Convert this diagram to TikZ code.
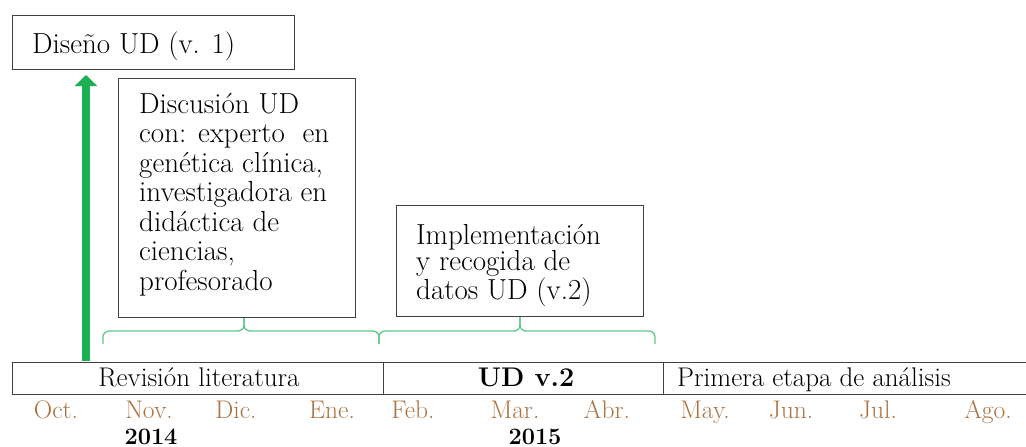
\documentclass[tikz,border=0pt]{standalone}
\usepackage{fontspec}
\usetikzlibrary{arrows.meta}
\definecolor{boxgray}{HTML}{404040}
\definecolor{arrowgreen}{HTML}{1DB052}
\definecolor{bracegreen}{HTML}{5EC98C}
\definecolor{monthbrown}{HTML}{AC7342}
\begin{document}
\begin{tikzpicture}[x=1pt,y=-1pt,
  boxstyle/.style={draw=boxgray,line width=1.2pt,inner sep=0pt,anchor=north west},
  cellstyle/.style={draw=boxgray,line width=1.2pt,inner sep=0pt,anchor=north west,minimum height=32pt},
  boxtext/.style={anchor=base west,inner sep=0pt,font=\fontsize{29}{29.5}\selectfont},
  celltext/.style={anchor=base,inner sep=0pt,font=\fontsize{27}{30}\selectfont},
  monthtext/.style={anchor=base,inner sep=0pt,text=monthbrown,font=\fontsize{25.5}{28}\selectfont},
  yeartext/.style={anchor=base,inner sep=0pt,font=\fontsize{23.5}{25}\selectfont\bfseries},
  bracestyle/.style={draw=bracegreen,line width=1.3pt,rounded corners=6pt},
  arrowstyle/.style={draw=arrowgreen,line width=7.5pt,-{Triangle[width=22pt,length=11pt]}}
]
\useasboundingbox (0,0) rectangle (1026,447);
\fill[white] (0,0) rectangle (1026,447);

% boxes
\node[boxstyle,minimum width=282pt,minimum height=54pt] (dis) at (12,15) {};
\node[boxtext] (distxt) at (32,53.5) {Diseño UD (v. 1)};

\node[boxstyle,minimum width=237pt,minimum height=239pt] (disc) at (118,78) {};
\node[boxtext] (disctxt) at (139,113) {\parbox[t]{220pt}{\raggedright Discusión UD\\ con: experto\ \ en\\ genética clínica,\\ investigadora en\\ didáctica de\\ ciencias,\\ profesorado}};

\node[boxstyle,minimum width=247pt,minimum height=111pt] (impl) at (396,205) {};
\node[boxtext,font=\fontsize{29}{26.5}\selectfont] (impltxt) at (416,244) {\parbox[t]{225pt}{\raggedright Implementación\\ y recogida de\\ datos UD (v.2)}};

% timeline cells
\node[cellstyle,minimum width=371pt] (rev) at (12,362) {};
\node[cellstyle,minimum width=280pt] (udv) at (383,362) {};
\node[cellstyle,minimum width=380pt] (prim) at (663,362) {};
\node[celltext] (revtxt) at (199,386) {Revisión literatura};
\node[celltext,font=\fontsize{27}{30}\selectfont\bfseries] (udvtxt) at (526,386) {UD v.2};
\node[celltext,anchor=base west] (primtxt) at (677,386) {Primera etapa de análisis};

% months
\node[monthtext] (m10) at (56,418) {Oct.};
\node[monthtext] (m11) at (149,418) {Nov.};
\node[monthtext] (m12) at (236,418) {Dic.};
\node[monthtext] (m01) at (332,418) {Ene.};
\node[monthtext] (m02) at (413,418) {Feb.};
\node[monthtext] (m03) at (515,418) {Mar.};
\node[monthtext] (m04) at (607,418) {Abr.};
\node[monthtext] (m05) at (705,418) {May.};
\node[monthtext] (m06) at (791,418) {Jun.};
\node[monthtext] (m07) at (878,418) {Jul.};
\node[monthtext] (m08) at (988,418) {Ago.};

% years
\node[yeartext] (y14) at (151,444) {2014};
\node[yeartext] (y15) at (535,444) {2015};

% braces
\coordinate (b1l) at (103,344);
\coordinate (b1r) at (379,344);
\coordinate (b1m) at (244,331);
\coordinate (b1t) at (disc.south -| b1m);
\coordinate (b2l) at (379,344);
\coordinate (b2r) at (655,344);
\coordinate (b2m) at (520,331);
\coordinate (b2t) at (impl.south -| b2m);
\draw[bracestyle] (b1l) |- (b1m) -- (b1t);
\draw[bracestyle] (b1r) |- (b1m) -- (b1t);
\draw[bracestyle] (b2l) |- (b2m) -- (b2t);
\draw[bracestyle] (b2r) |- (b2m) -- (b2t);

% arrow
\coordinate (abot) at (86,361);
\coordinate (atop) at (86,75);
\draw[arrowstyle] (abot) -- (atop);
\end{tikzpicture}
\end{document}
